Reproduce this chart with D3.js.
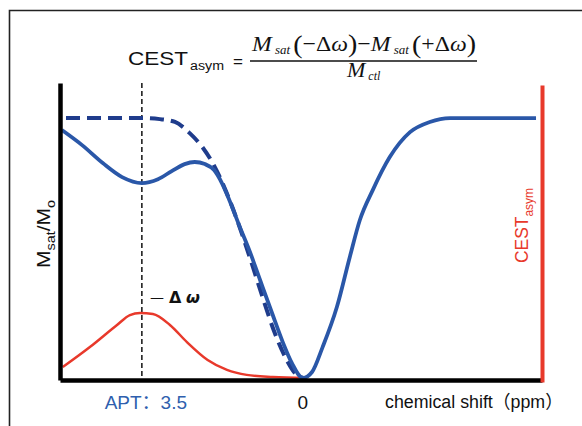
<!DOCTYPE html>
<html><head><meta charset="utf-8">
<script src="https://cdn.jsdelivr.net/npm/d3@7"></script>
<style>body{margin:0;background:#fff}svg{display:block}</style>
</head><body><svg id="c" width="582" height="426"></svg>
<script>
// ---- data (ppm, normalised signal) ----
const solidPpm = [5.24,4.80,4.35,3.93,3.50,3.15,2.85,2.57,2.35,2.13,1.93,1.76,1.59,1.37,1.15,0.93,0.67,0.43,0.24,0.0,-0.20,-0.43,-0.74,-1.02,-1.24,-1.52,-1.89,-2.33,-2.76,-3.20,-5.07];
const solidVal = [0.954,0.896,0.827,0.773,0.750,0.765,0.796,0.823,0.831,0.823,0.800,0.750,0.681,0.581,0.485,0.377,0.250,0.135,0.058,0.0,0.023,0.119,0.273,0.465,0.608,0.723,0.850,0.946,0.985,1.0,1.0];
const refPpm = [5.15,3.48,3.11,2.78,2.46,2.17,1.96,1.70,1.43,1.15,0.87,0.61,0.35,0.15,0.0];
const refVal = [1.0,1.0,0.996,0.985,0.942,0.885,0.827,0.731,0.608,0.462,0.308,0.173,0.069,0.015,0.0];
const asymPpm = [5.22,4.63,4.04,3.76,3.54,3.26,2.89,2.52,2.07,1.65,1.22,0.65,-0.04];
const asymVal = [0.042,0.119,0.204,0.242,0.250,0.246,0.204,0.138,0.069,0.031,0.012,0.004,0.0];
const tickPpm = [3.5, 0];
const tickLabels = ["APT：3.5", "0"];
const markerPpm = 3.5;

const svg = d3.select("#c");
const x = d3.scaleLinear().domain([5.28, -5.2]).range([60, 542]);
const y = d3.scaleLinear().domain([-0.0077, 1.135]).range([380, 83]);

// frame
svg.append("path").attr("d","M9.5,426 V10.5 H582").attr("fill","none").attr("stroke","#222").attr("stroke-width",1.6);

// marker dashed vertical line
svg.append("line").attr("x1",x(markerPpm)).attr("x2",x(markerPpm)).attr("y1",y.range()[1]).attr("y2",y(0))
  .attr("stroke","#111").attr("stroke-width",1.5).attr("stroke-dasharray","5,3");

const line = d3.line().x(d=>x(d[0])).y(d=>y(d[1])).curve(d3.curveMonotoneX);
const zip = (a,b)=>a.map((v,i)=>[v,b[i]]);

// red CEST asym curve
svg.append("path").attr("d", line(zip(asymPpm, asymVal))).attr("fill","none")
  .attr("stroke","#e8392b").attr("stroke-width",2.5);
// reference dashed
svg.append("path").attr("d", line(zip(refPpm, refVal))).attr("fill","none")
  .attr("stroke","#1f3c8c").attr("stroke-width",4).attr("stroke-dasharray","14,7");
// measured solid
svg.append("path").attr("d", line(zip(solidPpm, solidVal))).attr("fill","none")
  .attr("stroke","#2a57a8").attr("stroke-width",3.8).attr("stroke-linejoin","round");

// axes
const gx = svg.append("g").attr("transform",`translate(0,${y(-0.0077)})`)
  .call(d3.axisBottom(x).tickValues([]).tickSizeOuter(0));
gx.select(".domain").attr("stroke","#000").attr("stroke-width",4.5);
const gy = svg.append("g").attr("transform",`translate(${x.range()[0]},0)`)
  .call(d3.axisLeft(y).tickValues([]).tickSizeOuter(0));
gy.select(".domain").attr("stroke","#000").attr("stroke-width",4.5);
const gr = svg.append("g").attr("transform",`translate(${x.range()[1]},2)`)
  .call(d3.axisRight(y).tickValues([]).tickSizeOuter(0));
gr.select(".domain").attr("stroke","#e8392b").attr("stroke-width",4);

// tick labels
const tl = svg.append("g").attr("font-family","Liberation Sans, Arial, Noto Sans CJK SC, sans-serif").attr("font-size",19);
tickPpm.forEach((p,i)=>{
  tl.append("text").attr("x", x(p) + (i===0?4:0)).attr("y",409).attr("text-anchor","middle")
    .attr("fill", i===0 ? "#2f5fae" : "#111").text(tickLabels[i]);
});
tl.append("text").attr("x",385).attr("y",408).attr("fill","#111").attr("font-size",18)
  .attr("textLength",178).attr("lengthAdjust","spacingAndGlyphs").text("chemical shift（ppm）");

// -Δω label
const dw = svg.append("text").attr("y",303).attr("font-family","DejaVu Sans, sans-serif")
  .attr("font-weight","bold").attr("font-size",16).attr("fill","#111");
dw.append("tspan").attr("x",150).attr("font-weight","normal").attr("font-size",14).attr("dy",-1).text("—");
dw.append("tspan").attr("x",169).attr("dy",1).text("Δ");
dw.append("tspan").attr("x",186).attr("font-style","italic").text("ω");

// y label (rotated)
const yl = svg.append("text").attr("transform","translate(50,268) scale(1.2,1) rotate(-90)")
  .attr("font-family","Liberation Sans, Arial, sans-serif").attr("font-size",16).attr("fill","#111")
  .attr("textLength",68).attr("lengthAdjust","spacingAndGlyphs");
yl.append("tspan").text("M");
yl.append("tspan").attr("font-size",11).attr("dy",4).text("sat");
yl.append("tspan").attr("dy",-4).text("/M");
yl.append("tspan").attr("font-size",11).attr("dy",4).text("o");

// right label (rotated)
const rl = svg.append("text").attr("transform","translate(528,263) scale(1.2,1) rotate(-90)")
  .attr("font-family","Liberation Sans, Arial, sans-serif").attr("font-size",16).attr("fill","#e8392b")
  .attr("textLength",75).attr("lengthAdjust","spacingAndGlyphs");
rl.append("tspan").text("CEST");
rl.append("tspan").attr("font-size",11).attr("dy",4).text("asym");

// formula
const sans = "Liberation Sans, Arial, sans-serif", serif = "Liberation Serif, Times New Roman, serif";
svg.append("text").attr("x",128).attr("y",65).attr("font-family",sans).attr("font-size",19).attr("fill","#111")
  .attr("textLength",60).attr("lengthAdjust","spacingAndGlyphs").text("CEST");
svg.append("text").attr("x",190).attr("y",70).attr("font-family",sans).attr("font-size",12).attr("fill","#111")
  .attr("textLength",34).attr("lengthAdjust","spacingAndGlyphs").text("asym");
svg.append("text").attr("x",233).attr("y",67).attr("font-family",sans).attr("font-size",17).attr("fill","#111").text("=");
svg.append("line").attr("x1",250).attr("x2",477).attr("y1",61).attr("y2",61).attr("stroke","#111").attr("stroke-width",1.4);
const num = svg.append("text").attr("x",252).attr("y",51).attr("font-family",serif).attr("font-size",22).attr("fill","#111")
  .attr("textLength",224).attr("lengthAdjust","spacingAndGlyphs");
num.append("tspan").attr("font-style","italic").text("M");
num.append("tspan").attr("font-style","italic").attr("font-size",12).attr("dy",3).text(" sat ");
num.append("tspan").attr("font-size",26).attr("dy",-1).text("(");
num.append("tspan").attr("dy",-2).text("−Δ");
num.append("tspan").attr("font-style","italic").text("ω");
num.append("tspan").attr("font-size",26).attr("dy",1).text(")");
num.append("tspan").attr("dy",-1).text("−");
num.append("tspan").attr("font-style","italic").text("M");
num.append("tspan").attr("font-style","italic").attr("font-size",12).attr("dy",3).text(" sat ");
num.append("tspan").attr("font-size",26).attr("dy",-1).text("(");
num.append("tspan").attr("dy",-2).text("+Δ");
num.append("tspan").attr("font-style","italic").text("ω");
num.append("tspan").attr("font-size",26).attr("dy",1).text(")");
const den = svg.append("text").attr("x",347).attr("y",77).attr("font-family",serif).attr("font-size",22).attr("fill","#111");
den.append("tspan").attr("font-style","italic").text("M");
den.append("tspan").attr("font-style","italic").attr("font-size",12).attr("dy",3).text(" ctl");
</script></body></html>
